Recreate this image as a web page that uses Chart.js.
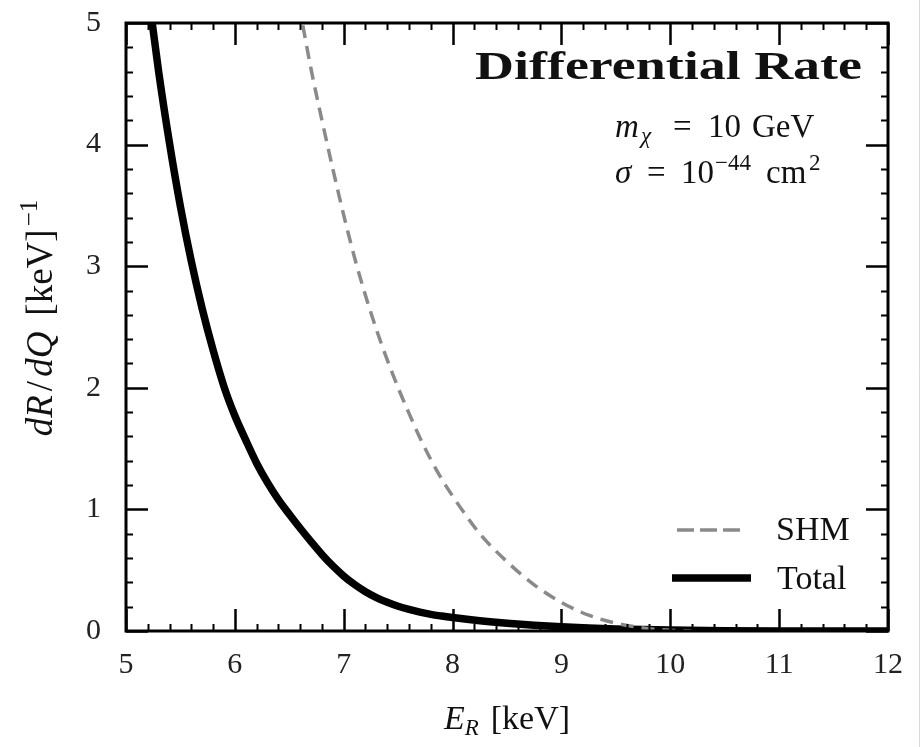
<!DOCTYPE html>
<html>
<head>
<meta charset="utf-8">
<script src="https://cdn.jsdelivr.net/npm/chart.js@4"></script>
<style>
  html,body{margin:0;padding:0;background:#fff;}
  #wrap{width:922px;height:747px;position:relative;}
</style>
</head>
<body>
<div id="wrap"><canvas id="c" width="922" height="747"></canvas></div>
<script>
// values
const totalE = [5.2,5.3,5.4,5.5,5.6,5.7,5.8,5.9,6.0,6.1,6.2,6.3,6.4,6.5,6.6,6.7,6.8,6.9,7.0,7.1,7.2,7.3,7.4,7.5,7.6,7.7,7.8,7.9,8.0,8.25,8.5,8.75,9.0,9.25,9.5,10.0,10.5,11.0,12.0];
const totalR = [5.28,4.6,4.01,3.49,3.04,2.65,2.31,2.01,1.77,1.57,1.38,1.22,1.08,0.96,0.845,0.735,0.63,0.535,0.452,0.382,0.323,0.275,0.236,0.204,0.178,0.156,0.137,0.123,0.111,0.085,0.064,0.047,0.034,0.024,0.017,0.008,0.003,0.001,0];
const shmE = [6.55,6.62,6.7,6.8,6.9,7.0,7.1,7.2,7.3,7.4,7.5,7.6,7.7,7.8,7.9,8.0,8.1,8.25,8.5,8.75,9.0,9.25,9.5,9.75,10.0,10.2];
const shmR = [5.32,5.0,4.62,4.2,3.8,3.42,3.07,2.76,2.48,2.23,2.0,1.79,1.59,1.41,1.25,1.11,0.98,0.8,0.57,0.38,0.235,0.13,0.065,0.025,0.006,0];
const xMin=5, xMax=12, yMin=0, yMax=5;

const SERIF='"Liberation Serif", "DejaVu Serif", serif';

const pts=(xs,ys)=>xs.map((x,i)=>({x,y:ys[i]}));

// a row of text pieces (italic, sub/superscript) placed one after the other
function runs(ctx,x,y,list,align){
  let w=0;
  list.forEach(r=>{ ctx.font=r.f; w+=ctx.measureText(r.t).width+(r.gap||0); });
  let cx=align==='right'?x-w:align==='center'?x-w/2:x;
  ctx.textAlign='left'; ctx.textBaseline='alphabetic';
  list.forEach(r=>{
    ctx.font=r.f; ctx.fillText(r.t,cx,y+(r.dy||0));
    cx+=ctx.measureText(r.t).width+(r.gap||0);
  });
}
// pieces at fixed x positions on one baseline
function pieces(ctx,y,list){
  ctx.textAlign='left'; ctx.textBaseline='alphabetic';
  list.forEach(r=>{ ctx.font=r.f; ctx.fillText(r.t,r.x,y+(r.dy||0)); });
}

const M='33px '+SERIF, MI='italic 33px '+SERIF, MS='23px '+SERIF, MSI='italic 23px '+SERIF;

const frame={
  id:'frame',
  afterDatasetsDraw(chart){
    const {ctx,chartArea:a,scales:{x,y}}=chart;
    ctx.save();
    ctx.strokeStyle='#000'; ctx.lineCap='butt';
    // inward ticks on all four sides
    for(let i=0;i<=35;i++){
      const v=xMin+i*0.2, px=Math.round(x.getPixelForValue(v))+0.5;
      const major=i%5===0, len=major?22:7;
      ctx.lineWidth=major?2.5:2;
      ctx.beginPath();
      ctx.moveTo(px,a.bottom); ctx.lineTo(px,a.bottom-len);
      ctx.moveTo(px,a.top); ctx.lineTo(px,a.top+len);
      ctx.stroke();
    }
    for(let i=0;i<=25;i++){
      const v=yMin+i*0.2, py=Math.round(y.getPixelForValue(v))+0.5;
      const major=i%5===0, len=major?22:7;
      ctx.lineWidth=major?2.5:2;
      ctx.beginPath();
      ctx.moveTo(a.left,py); ctx.lineTo(a.left+len,py);
      ctx.moveTo(a.right,py); ctx.lineTo(a.right-len,py);
      ctx.stroke();
    }
    ctx.lineWidth=3;
    ctx.strokeRect(a.left,a.top,a.right-a.left,a.bottom-a.top);
    ctx.restore();
  },
  afterDraw(chart){
    const {ctx,chartArea:a}=chart;
    ctx.save();
    ctx.fillStyle='#111';
    // title, stretched to the width of the wide bold face in the original
    ctx.font='bold 41px '+SERIF; ctx.textAlign='left';
    const tw=ctx.measureText('Differential Rate').width;
    const sx=Math.min(1.35,387/tw);
    ctx.save(); ctx.translate(862-tw*sx,79); ctx.scale(sx,1);
    ctx.fillText('Differential Rate',0,0); ctx.restore();
    // parameters
    pieces(ctx,137,[
      {t:'m',f:MI,x:615},{t:'χ',f:MSI,x:641,dy:6},
      {t:'=',f:M,x:673},{t:'10',f:M,x:708},{t:'GeV',f:M,x:752}
    ]);
    pieces(ctx,183,[
      {t:'σ',f:MI,x:615},{t:'=',f:M,x:647},{t:'10',f:M,x:681},
      {t:'−44',f:MS,x:715,dy:-13},{t:'cm',f:M,x:766},{t:'2',f:MS,x:809,dy:-13}
    ]);
    // legend
    const ds=chart.data.datasets;
    const rows=[{d:ds[0],y:530,x0:677,x1:740,tx:776,by:540},{d:ds[1],y:578,x0:672,x1:751,tx:777,by:589}];
    rows.forEach(r=>{
      ctx.strokeStyle=r.d.borderColor; ctx.lineWidth=r.d.borderWidth;
      ctx.setLineDash(r.d.borderDash?[17,6]:[]);
      ctx.beginPath(); ctx.moveTo(r.x0,r.y); ctx.lineTo(r.x1,r.y); ctx.stroke();
      ctx.setLineDash([]);
      ctx.fillStyle='#111'; ctx.font='34px '+SERIF; ctx.textAlign='left';
      ctx.fillText(r.d.label,r.tx,r.by);
    });
    // axis titles
    runs(ctx,(a.left+a.right)/2,729,[
      {t:'E',f:'italic 34px '+SERIF},
      {t:'R',f:'italic 23px '+SERIF,dy:6,gap:12},
      {t:'[keV]',f:'34px '+SERIF}
    ],'center');
    ctx.save();
    ctx.translate(52,318); ctx.rotate(-Math.PI/2);
    runs(ctx,0,0,[
      {t:'dR',f:'italic 37px '+SERIF,gap:4},
      {t:'/',f:'37px '+SERIF,gap:4},
      {t:'dQ',f:'italic 37px '+SERIF,gap:16},
      {t:'[keV]',f:'37px '+SERIF,gap:3},
      {t:'−1',f:'25px '+SERIF,dy:-15}
    ],'center');
    ctx.restore();
    // thin edge line at the right of the picture
    ctx.strokeStyle='#cfe3cf'; ctx.lineWidth=1;
    ctx.beginPath(); ctx.moveTo(919.5,0); ctx.lineTo(919.5,747); ctx.stroke();
    ctx.restore();
  }
};

new Chart(document.getElementById('c'),{
  type:'line',
  data:{datasets:[
    {label:'SHM',data:pts(shmE,shmR),borderColor:'#8a8a8a',borderWidth:3.5,
     borderDash:[13,8],pointRadius:0,cubicInterpolationMode:'monotone',fill:false},
    {label:'Total',data:pts(totalE,totalR),borderColor:'#000',borderWidth:7.5,
     pointRadius:0,cubicInterpolationMode:'monotone',fill:false}
  ]},
  options:{
    responsive:false,animation:false,
    layout:{padding:{top:23,right:34,left:0,bottom:0}},
    plugins:{legend:{display:false},tooltip:{enabled:false}},
    scales:{
      x:{type:'linear',min:xMin,max:xMax,
         grid:{display:false},border:{display:false},
         ticks:{stepSize:1,padding:8,color:'#222',font:{family:SERIF,size:30},maxRotation:0},
         afterFit:s=>{s.height=747-631; s.paddingLeft=0; s.paddingRight=0;}},
      y:{type:'linear',min:yMin,max:yMax,
         grid:{display:false},border:{display:false},
         ticks:{stepSize:1,padding:17,color:'#222',font:{family:SERIF,size:30}},
         afterFit:s=>{s.width=126; s.paddingTop=0; s.paddingBottom=0;}}
    }
  },
  plugins:[frame]
});
</script>
</body>
</html>
